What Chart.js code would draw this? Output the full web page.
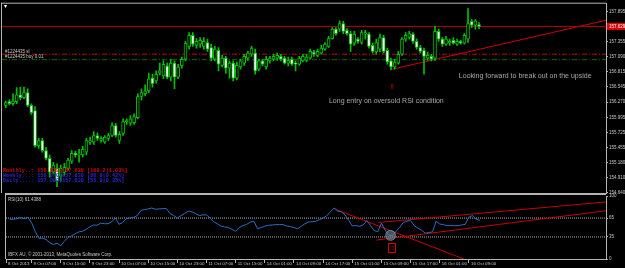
<!DOCTYPE html>
<html>
<head>
<meta charset="utf-8">
<script src="https://cdn.jsdelivr.net/npm/chart.js@4.4.0/dist/chart.umd.min.js"></script>
<style>
    html, body { margin: 0; padding: 0; background: #000; }
    #wrap { position: relative; width: 625px; height: 268px; overflow: hidden; background: #000; }
    #wrap canvas { position: absolute; left: 0; }
    #main { top: 0; }
    #rsi { top: 190px; }
</style>
</head>
<body>
<div id="wrap">
    <canvas id="main" width="625" height="198"></canvas>
    <canvas id="rsi" width="625" height="78"></canvas>
</div>
<script>
// USDJPY H1, 8-16 Oct 2013
var opens = [
    156.21, 156.28, 156.24, 156.28, 156.40, 156.35, 156.44, 156.21, 156.12, 155.49,
    155.58, 155.40, 155.26, 155.01, 155.08, 154.94, 155.01, 155.08, 155.21, 155.35,
    155.32, 155.32, 155.37, 155.55, 155.55, 155.67, 155.58, 155.55, 155.62, 155.67,
    155.85, 155.58, 155.71, 155.92, 155.89, 155.90, 155.99, 156.37, 156.42, 156.47,
    156.70, 156.65, 156.79, 156.74, 156.92, 156.72, 156.97, 156.72, 156.92, 157.04,
    157.27, 157.47, 157.29, 157.31, 157.27, 157.34, 157.25, 157.04, 157.20, 156.93,
    157.06, 156.88, 156.97, 156.70, 156.90, 156.97, 157.06, 157.13, 157.15, 156.86,
    157.01, 156.90, 157.01, 157.04, 157.06, 157.09, 157.06, 156.97, 157.04, 156.97,
    156.95, 157.01, 157.02, 157.06, 157.17, 157.11, 157.15, 157.22, 157.27, 157.41,
    157.58, 157.58, 157.68, 157.56, 157.50, 157.33, 157.40, 157.34, 157.49, 157.49,
    157.29, 157.17, 157.22, 157.43, 157.20, 157.01, 156.90, 156.97, 157.13, 157.40,
    157.43, 157.49, 157.36, 157.25, 157.20, 157.06, 157.09, 157.06, 157.54, 157.40,
    157.31, 157.33, 157.38, 157.31, 157.36, 157.33, 157.40, 157.72, 157.65, 157.66
];
var highs = [
    156.29, 156.31, 156.42, 156.53, 156.54, 156.54, 156.51, 156.24, 156.19, 155.62,
    155.62, 155.46, 155.32, 155.19, 155.16, 155.14, 155.17, 155.26, 155.40, 155.39,
    155.42, 155.48, 155.62, 155.64, 155.74, 155.72, 155.65, 155.67, 155.71, 155.90,
    155.89, 155.74, 155.97, 155.97, 156.03, 156.06, 156.42, 156.51, 156.58, 156.79,
    156.77, 156.83, 156.97, 157.01, 156.97, 157.04, 157.01, 156.95, 157.08, 157.36,
    157.52, 157.52, 157.41, 157.43, 157.43, 157.40, 157.31, 157.27, 157.25, 157.11,
    157.09, 157.01, 157.01, 156.99, 157.04, 157.13, 157.18, 157.27, 157.22, 157.04,
    157.04, 157.09, 157.09, 157.13, 157.15, 157.13, 157.09, 157.08, 157.08, 157.01,
    157.09, 157.13, 157.13, 157.22, 157.20, 157.22, 157.29, 157.34, 157.45, 157.61,
    157.61, 157.73, 157.72, 157.59, 157.54, 157.54, 157.43, 157.56, 157.56, 157.52,
    157.33, 157.40, 157.49, 157.47, 157.24, 157.06, 157.04, 157.18, 157.43, 157.52,
    157.54, 157.52, 157.40, 157.29, 157.24, 157.17, 157.13, 157.63, 157.58, 157.43,
    157.45, 157.40, 157.43, 157.40, 157.38, 157.50, 157.95, 157.75, 157.75, 157.70
];
var lows = [
    156.17, 156.22, 156.21, 156.24, 156.31, 156.33, 156.19, 156.05, 155.46, 155.44,
    155.37, 155.23, 154.92, 154.98, 154.75, 154.85, 154.96, 155.05, 155.17, 155.28,
    155.19, 155.28, 155.32, 155.51, 155.51, 155.58, 155.55, 155.53, 155.58, 155.65,
    155.64, 155.53, 155.67, 155.87, 155.85, 155.87, 155.97, 156.31, 156.38, 156.44,
    156.54, 156.61, 156.76, 156.69, 156.69, 156.65, 156.51, 156.69, 156.88, 157.01,
    157.22, 157.27, 157.24, 157.25, 157.22, 157.18, 157.01, 157.01, 156.83, 156.90,
    156.79, 156.70, 156.65, 156.67, 156.86, 156.93, 157.02, 157.09, 156.77, 156.83,
    156.92, 156.86, 156.97, 157.01, 157.02, 157.01, 156.95, 156.92, 156.93, 156.83,
    156.93, 156.99, 156.99, 157.04, 157.09, 157.08, 157.13, 157.20, 157.25, 157.40,
    157.47, 157.54, 157.50, 157.47, 157.18, 157.29, 157.33, 157.31, 157.40, 157.24,
    157.15, 157.13, 157.17, 157.15, 156.95, 156.85, 156.86, 156.95, 157.11, 157.36,
    157.40, 157.33, 157.22, 157.15, 156.77, 157.02, 157.01, 157.02, 157.36, 157.27,
    157.29, 157.29, 157.31, 157.29, 157.31, 157.31, 157.34, 157.61, 157.58, 157.59
];
var closes = [
    156.26, 156.24, 156.29, 156.40, 156.35, 156.44, 156.21, 156.08, 155.49, 155.58,
    155.40, 155.26, 155.01, 155.14, 154.85, 155.08, 155.10, 155.23, 155.35, 155.32,
    155.33, 155.42, 155.58, 155.58, 155.67, 155.62, 155.62, 155.64, 155.67, 155.85,
    155.67, 155.69, 155.92, 155.94, 155.97, 156.01, 156.37, 156.44, 156.47, 156.69,
    156.60, 156.77, 156.83, 156.95, 156.72, 156.97, 156.72, 156.90, 157.04, 157.33,
    157.47, 157.31, 157.36, 157.38, 157.36, 157.22, 157.06, 157.22, 156.95, 157.06,
    156.88, 156.97, 156.70, 156.93, 157.01, 157.09, 157.15, 157.24, 156.83, 157.01,
    156.95, 157.04, 157.06, 157.09, 157.11, 157.04, 156.97, 157.02, 156.95, 156.95,
    157.06, 157.09, 157.08, 157.18, 157.13, 157.18, 157.24, 157.31, 157.41, 157.58,
    157.50, 157.68, 157.54, 157.50, 157.31, 157.49, 157.36, 157.52, 157.52, 157.27,
    157.18, 157.34, 157.43, 157.18, 156.99, 156.90, 156.99, 157.13, 157.40, 157.47,
    157.50, 157.36, 157.25, 157.18, 157.09, 157.11, 157.04, 157.54, 157.40, 157.31,
    157.40, 157.36, 157.33, 157.36, 157.33, 157.47, 157.68, 157.65, 157.73, 157.629
];
var rsi10 = [
    63, 63, 64, 66, 64, 66, 58, 44, 33, 33,
    31, 26, 23, 25, 21, 28, 34, 37, 40, 43,
    44, 47, 51, 54, 53.5, 57, 56, 56, 59, 65,
    55, 58, 64, 65, 66, 69, 77, 78.5, 79.5, 81,
    79, 79.5, 80, 80, 72, 69, 65, 69, 72, 76,
    75, 72, 69, 70, 70, 65, 59, 56, 52, 51,
    50, 47, 44, 50, 53, 55, 58.5, 60, 48, 50,
    52, 53.5, 54, 54.6, 54.6, 54.6, 52.5, 51.5, 50, 48,
    52, 56, 58.8, 59, 60, 62.5, 65, 68.5, 75, 81,
    76, 75, 70, 61.5, 52.5, 53, 52, 54, 61, 53,
    45, 43.5, 57, 46, 38, 37, 44, 50, 58, 60,
    61, 53, 49, 45.7, 41, 42, 43, 60, 55.5, 54.6,
    53, 53, 53, 53, 54, 55, 66.6, 69, 63, 61.44
];

var priceTicks = [157.895, 157.355, 157.090, 156.815, 156.545, 156.270, 155.995,
                  155.725, 155.455, 155.180, 154.910, 154.640];
var rsiTicks = [0, 35, 65, 100];
var timeLabels = ['8 Oct 2013', '9 Oct 07:00', '9 Oct 15:00', '9 Oct 23:00', '10 Oct 07:00',
                  '10 Oct 15:00', '10 Oct 23:00', '11 Oct 07:00', '11 Oct 15:00', '14 Oct 01:00',
                  '14 Oct 09:00', '14 Oct 17:00', '15 Oct 01:00', '15 Oct 09:00', '15 Oct 17:00',
                  '16 Oct 01:00', '16 Oct 09:00'];
var timeLabelBars = [-1, 6, 14, 22, 30, 38, 46, 54, 62, 70, 78, 86, 94, 102, 110, 118, 126];

// levels and hand-drawn objects
var bidLevel = 157.629;
var slLevel = 157.13;
var buyLevel = 157.032;
var trendMainBars = [105.3, 163.6];
var trendMainPrices = [156.86, 157.74];
var rsiDownBars = [88.9, 124.6];
var rsiDownValues = [80, 0];
var rsiUpperBars = [101.2, 163.6];
var rsiUpperValues = [58, 90.6];
var rsiLowerBars = [100.6, 163.6];
var rsiLowerValues = [30, 76.6];
var rsiLevels = [65, 35];

var X_MIN = -1, X_MAX = 163.6;
var GREEN = '#00c000';
var AXIS = '#b4b4b4';
var TINY = '"Liberation Sans", Arial, sans-serif';

var bars = closes.map(function (c, i) { return i; });

// ── helpers ──────────────────────────────────────────────────────
function pairs(xs, ys) {
    return xs.map(function (x, i) { return { x: x, y: ys[i] }; });
}
function hline(v) { return [{ x: X_MIN, y: v }, { x: X_MAX, y: v }]; }
function txt(ctx, s, x, y, font, color, align, base) {
    ctx.font = font;
    ctx.fillStyle = color;
    ctx.textAlign = align || 'left';
    ctx.textBaseline = base || 'middle';
    ctx.fillText(s, x, y);
}
function lineDs(data, color, dash, order) {
    return {
        type: 'line', data: data, borderColor: color, borderWidth: 1,
        borderDash: dash || [], pointRadius: 0, fill: false, order: order || 1
    };
}

// ── main panel decorations ───────────────────────────────────────
var mainDecor = {
    id: 'mainDecor',
    afterDatasetsDraw: function (chart) {
        var ctx = chart.ctx, a = chart.chartArea;
        var x = chart.scales.x, y = chart.scales.y;
        ctx.save();
        var note = '7px ' + TINY;
        txt(ctx, 'Long entry on oversold RSI condition', x.getPixelForValue(88.1), y.getPixelForValue(156.29), note, '#a8a8a8');
        txt(ctx, 'Looking forward to break out on the upside', x.getPixelForValue(123.5), y.getPixelForValue(156.74), note, '#a8a8a8');
        txt(ctx, '\u21D1', x.getPixelForValue(105.3), y.getPixelForValue(156.53), '7px "DejaVu Sans"', '#e00000', 'center');

        var small = '4.5px ' + TINY;
        txt(ctx, '#1224435 sl', a.left + 3, y.getPixelForValue(slLevel) - 2.5, small, '#c8c8c8');
        txt(ctx, '#1224435 buy 0.01', a.left + 3, y.getPixelForValue(buyLevel) - 2.5, small, '#c8c8c8');

        var mono = 'bold 5.2px "Liberation Mono", "DejaVu Sans Mono", monospace';
        txt(ctx, 'Monthly..: 156.028|157.630 [160.2|1.03%]', a.left + 1, a.bottom - 22, mono, '#d80000');
        txt(ctx, 'Weekly...: 156.970|157.630 [66.0|0.42%]', a.left + 1, a.bottom - 17, mono, '#2828d8');
        txt(ctx, 'Daily....: 157.080|157.630 [55.0|0.35%]', a.left + 1, a.bottom - 12, mono, '#2828d8');

        txt(ctx, '\u25BE', a.left + 2, a.top + 3, '6px "DejaVu Sans"', '#ffffff');
        ctx.restore();
    },
    afterDraw: function (chart) {
        var ctx = chart.ctx, a = chart.chartArea, y = chart.scales.y;
        ctx.save();
        ctx.fillStyle = AXIS;
        ctx.fillRect(a.left - 1, a.top - 1, a.right - a.left + 1, 1);
        ctx.fillRect(a.left - 1, a.top - 1, 1, a.bottom - a.top + 1);
        // current price box on the axis
        var py = y.getPixelForValue(bidLevel);
        ctx.fillStyle = '#e00000';
        ctx.fillRect(a.right + 1, py - 3.5, 625 - a.right - 1, 7);
        txt(ctx, bidLevel.toFixed(3), a.right + 3, py, '4.5px ' + TINY, '#ffffff');
        ctx.restore();
    }
};

// ── RSI panel decorations ────────────────────────────────────────
var rsiDecor = {
    id: 'rsiDecor',
    afterDatasetsDraw: function (chart) {
        var ctx = chart.ctx, a = chart.chartArea;
        var x = chart.scales.x, y = chart.scales.y;
        ctx.save();
        var small = '4.5px ' + TINY;
        txt(ctx, 'RSI(10) 61.4388', a.left + 2, a.top + 4, small, '#c8c8c8');
        txt(ctx, 'IBFX AU, \u00A9 2001-2013, MetaQuotes Software Corp.', a.left + 2, a.bottom - 4, small, '#c8c8c8');
        // buy marker box
        var mx = x.getPixelForValue(105), my = y.getPixelForValue(17);
        ctx.strokeStyle = '#d00000';
        ctx.lineWidth = 1;
        ctx.strokeRect(Math.round(mx) - 3.5, Math.round(my) - 4.5, 7, 9);
        txt(ctx, '\u21E7', mx, my, '6px "DejaVu Sans"', '#d00000', 'center');
        ctx.restore();
    },
    afterDraw: function (chart) {
        var ctx = chart.ctx, a = chart.chartArea;
        ctx.save();
        ctx.fillStyle = AXIS;
        ctx.fillRect(a.left - 1, a.top - 3, a.right - a.left + 1, 2);
        ctx.fillRect(a.left - 1, a.top - 3, 1, a.bottom - a.top + 3);
        ctx.restore();
    }
};

// ── main chart ───────────────────────────────────────────────────
new Chart(document.getElementById('main'), {
    type: 'bar',
    data: {
        datasets: [
            lineDs(hline(bidLevel), '#b40000', null, 5),
            lineDs(hline(slLevel), '#c80000', [5, 2, 1, 2], 5),
            lineDs(hline(buyLevel), '#007000', [5, 2, 1, 2], 5),
            lineDs(pairs(trendMainBars, trendMainPrices), '#d00000', null, 5),
            {
                label: 'wicks',
                data: bars.map(function (i) { return { x: i, y: [lows[i], highs[i]] }; }),
                backgroundColor: GREEN,
                barThickness: 1,
                grouped: false,
                order: 3
            },
            {
                label: 'bodies',
                data: bars.map(function (i) { return { x: i, y: [opens[i], closes[i]] }; }),
                backgroundColor: bars.map(function (i) { return closes[i] >= opens[i] ? '#000000' : '#ffffff'; }),
                borderColor: GREEN,
                borderWidth: 1,
                borderSkipped: false,
                barThickness: 3,
                minBarLength: 1,
                grouped: false,
                order: 2
            }
        ]
    },
    options: {
        responsive: false,
        animation: false,
        events: [],
        layout: { padding: { left: 2, top: 2, right: 0, bottom: 5 } },
        plugins: { legend: { display: false }, tooltip: { enabled: false } },
        scales: {
            x: { type: 'linear', min: X_MIN, max: X_MAX, offset: false, display: false },
            y: {
                position: 'right',
                min: 154.638,
                max: 158.037,
                afterBuildTicks: function (s) { s.ticks = priceTicks.map(function (v) { return { value: v }; }); },
                afterFit: function (s) { s.width = 19; },
                ticks: {
                    autoSkip: false,
                    padding: 1,
                    color: '#c8c8c8',
                    font: { size: 4.5, family: TINY },
                    callback: function (v) { return Number(v).toFixed(3); }
                },
                grid: { drawOnChartArea: false, tickLength: 2, color: AXIS },
                border: { color: AXIS }
            }
        }
    },
    plugins: [mainDecor]
});

// ── RSI chart ────────────────────────────────────────────────────
var rsiDatasets = [
    lineDs(hline(rsiLevels[0]), '#b0b0b0', [1, 1], 5),
    lineDs(hline(rsiLevels[1]), '#b0b0b0', [1, 1], 5),
    lineDs(pairs(rsiDownBars, rsiDownValues), '#c80000', null, 4),
    lineDs(pairs(rsiUpperBars, rsiUpperValues), '#c80000', null, 4),
    lineDs(pairs(rsiLowerBars, rsiLowerValues), '#c80000', null, 4),
    lineDs(bars.map(function (i) { return { x: i, y: rsi10[i] }; }), '#2c6cc4', null, 2),
    {
        type: 'line', data: [{ x: 104.5, y: 37.5 }], showLine: false,
        pointRadius: 5, pointBackgroundColor: 'rgba(110,140,160,0.6)',
        pointBorderColor: 'rgba(140,165,180,0.6)', pointBorderWidth: 1, order: 1
    }
];

new Chart(document.getElementById('rsi'), {
    type: 'line',
    data: { datasets: rsiDatasets },
    options: {
        responsive: false,
        animation: false,
        events: [],
        layout: { padding: { left: 2, top: 5, right: 0, bottom: 0 } },
        plugins: { legend: { display: false }, tooltip: { enabled: false } },
        scales: {
            x: {
                type: 'linear', min: X_MIN, max: X_MAX, offset: false,
                afterBuildTicks: function (s) { s.ticks = timeLabelBars.map(function (v) { return { value: v }; }); },
                afterFit: function (s) { s.height = 9; },
                ticks: {
                    autoSkip: false,
                    maxRotation: 0,
                    align: 'start',
                    labelOffset: 2,
                    padding: -2,
                    color: '#c8c8c8',
                    font: { size: 4.4, family: TINY },
                    callback: function (v) { return timeLabels[timeLabelBars.indexOf(v)]; }
                },
                grid: { drawOnChartArea: false, tickLength: 4, color: AXIS },
                border: { color: AXIS }
            },
            y: {
                position: 'right',
                min: 0,
                max: 100,
                afterBuildTicks: function (s) { s.ticks = rsiTicks.map(function (v) { return { value: v }; }); },
                afterFit: function (s) { s.width = 19; },
                ticks: {
                    autoSkip: false,
                    padding: 1,
                    color: '#c8c8c8',
                    font: { size: 4.5, family: TINY }
                },
                grid: { drawOnChartArea: false, tickLength: 2, color: AXIS },
                border: { color: AXIS }
            }
        }
    },
    plugins: [rsiDecor]
});
</script>
</body>
</html>
